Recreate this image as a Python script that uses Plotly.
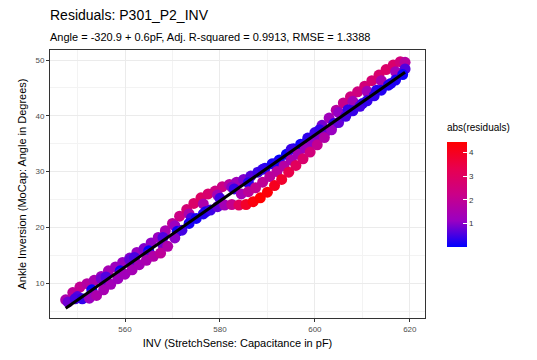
import numpy as np
import plotly.graph_objects as go

# Upper branch of the hysteresis band
upper_x = [547.5, 549.0, 550.5, 552.0, 553.5, 555.0, 556.5, 558.0, 559.5, 561.0,
           562.5, 564.0, 565.5, 567.0, 568.5, 570.0, 571.5, 573.0, 574.5, 576.0,
           577.5, 579.0, 580.5, 582.0, 583.5, 585.0, 586.5, 588.0, 589.5, 591.0,
           592.5, 594.0, 595.5, 597.0, 598.5, 600.0, 601.5, 603.0, 604.5, 606.0,
           607.5, 609.0, 610.5, 612.0, 613.5, 615.0, 616.5, 618.0, 619.0]
upper_y = [7.0, 8.3, 9.3, 9.9, 10.5, 11.2, 12.2, 12.9, 13.7, 14.5,
           15.5, 16.2, 17.2, 18.2, 19.4, 20.7, 22.0, 23.2, 24.3, 25.3,
           26.0, 26.5, 27.3, 27.7, 28.1, 28.6, 29.2, 29.9, 30.6, 31.4,
           32.1, 33.1, 34.1, 34.9, 36.0, 37.0, 38.3, 39.6, 41.0, 42.3,
           43.4, 44.3, 45.3, 46.3, 47.3, 48.3, 49.1, 49.7, 49.6]

# Points between the upper branch and the fit
upper_mid_x = [555.0, 561.0, 570.5, 573.5, 576.5, 579.5, 582.5, 605.0, 608.0, 611.0, 614.0, 617.0]
upper_mid_y = [10.8, 14.2, 20.3, 22.4, 24.2, 25.8, 27.2, 40.6, 42.6, 44.4, 46.3, 47.9]

# Points close to the fitted line
mid_x = [550, 553, 556, 559, 562, 565, 568, 571, 574, 577, 580, 583,
         586, 589, 592, 595, 598, 601, 604, 607, 610, 613, 616, 619]
mid_y = [7.6, 8.8, 11.1, 12.2, 14.6, 15.8, 18.2, 19.3, 21.7, 22.8, 25.2, 26.9,
         28.0, 30.4, 31.6, 34.0, 35.1, 37.5, 38.6, 41.1, 42.2, 44.6, 45.8, 48.4]

# Points between the fit and the lower branch
lower_mid_x = [553.0, 556.0, 559.0, 562.0, 565.0, 568.0, 584.5, 586.0, 587.5, 589.0,
               590.5, 592.0, 593.5, 595.0, 596.5, 598.0, 599.5, 601.0, 602.5]
lower_mid_y = [8.0, 9.9, 11.7, 13.5, 15.2, 16.8, 26.0, 26.4, 27.1, 28.1,
               29.1, 30.0, 31.0, 32.1, 33.1, 34.2, 35.2, 36.2, 37.3]

# Lower branch
lower_x = [548.0, 549.5, 551.0, 552.5, 554.0, 555.5, 557.0, 558.5, 560.0, 561.5,
           563.0, 564.5, 566.0, 567.5, 569.0, 570.5, 572.0, 573.5, 575.0, 576.5,
           578.0, 579.5, 581.0, 582.5, 584.0, 585.5, 587.0, 588.5, 590.0, 591.5,
           593.0, 594.5, 596.0, 597.5, 599.0, 600.5, 602.0, 603.5, 605.0, 606.5,
           608.0, 609.5, 611.0, 612.5, 614.0, 615.5, 617.0, 618.5]
lower_y = [6.6, 7.2, 7.2, 7.3, 7.8, 8.8, 9.8, 10.8, 11.6, 12.4,
           13.3, 14.1, 14.8, 15.4, 16.6, 18.1, 19.5, 20.7, 21.6, 22.4,
           23.1, 23.7, 24.0, 24.1, 24.0, 24.1, 24.6, 25.3, 26.3, 27.5,
           28.6, 29.9, 31.1, 32.3, 33.5, 34.8, 36.1, 37.5, 38.8, 39.9,
           40.9, 41.7, 42.7, 43.6, 44.6, 45.5, 46.4, 47.4]

x_ticks = [560, 580, 600, 620]
y_ticks = [10, 20, 30, 40, 50]
cbar_ticks = [1, 2, 3, 4]

title = "Residuals: P301_P2_INV"
subtitle = "Angle = -320.9 + 0.6pF, Adj. R-squared = 0.9913, RMSE = 1.3388"
x_title = "INV (StretchSense: Capacitance in pF)"
y_title = "Ankle Inversion (MoCap: Angle in Degrees)"
legend_title = "abs(residuals)"

x = np.array(upper_x + upper_mid_x + mid_x + lower_mid_x + lower_x, dtype=float)
y = np.array(upper_y + upper_mid_y + mid_y + lower_mid_y + lower_y, dtype=float)
slope, intercept = np.polyfit(x, y, 1)
resid = np.abs(y - (intercept + slope * x))

colorscale = [[0, "#0000FF"], [0.25, "#9A00C2"], [0.5, "#CA0088"],
              [0.75, "#E8004F"], [1, "#FF0000"]]

fig = go.Figure()
fig.add_trace(go.Scatter(
    x=x, y=y, mode="markers",
    marker=dict(size=11, color=resid, colorscale=colorscale,
                cmin=0, cmax=float(resid.max()), line=dict(width=0),
                showscale=True,
                colorbar=dict(x=1.059, xanchor="left", xpad=0,
                              y=0.461, yanchor="middle", ypad=0,
                              thickness=20, lenmode="pixels", len=105,
                              outlinewidth=0, tickvals=cbar_ticks,
                              ticks="inside", ticklen=4, tickcolor="white",
                              tickfont=dict(family="Liberation Sans", size=8, color="#333333"))),
    showlegend=False, hoverinfo="skip"))

lx = np.array([x.min(), x.max()])
fig.add_trace(go.Scatter(x=lx, y=intercept + slope * lx, mode="lines",
                         line=dict(color="black", width=3),
                         showlegend=False, hoverinfo="skip"))

axis_common = dict(showline=True, mirror=True, linecolor="#333333", linewidth=1,
                   ticks="outside", ticklen=3, tickcolor="#333333",
                   gridcolor="#EBEBEB", gridwidth=1, zeroline=False,
                   tickfont=dict(family="Liberation Sans", size=8, color="#4D4D4D"))

fig.update_layout(
    width=537, height=360,
    margin=dict(l=50, r=112, t=50, b=42),
    paper_bgcolor="white", plot_bgcolor="white",
    font=dict(family="Liberation Sans", color="black"),
    xaxis=dict(range=[544.2, 623.2], tickvals=x_ticks,
               minor=dict(dtick=10, tick0=550, showgrid=True, gridcolor="#F3F3F3", gridwidth=0.5),
               title=dict(text=x_title, font=dict(size=11), standoff=6),
               **axis_common),
    yaxis=dict(range=[3.75, 51.8], tickvals=y_ticks,
               minor=dict(dtick=10, tick0=5, showgrid=True, gridcolor="#F3F3F3", gridwidth=0.5),
               title=dict(text=y_title, font=dict(size=11), standoff=6),
               **axis_common),
    annotations=[
        dict(text=title, xref="paper", yref="paper", x=-0.005, y=(318 - 15) / 268,
             xanchor="left", yanchor="middle", showarrow=False,
             font=dict(size=14, color="black")),
        dict(text=subtitle, xref="paper", yref="paper", x=-0.005, y=(318 - 37) / 268,
             xanchor="left", yanchor="middle", showarrow=False,
             font=dict(size=11, color="black")),
        dict(text=legend_title, xref="paper", yref="paper", x=1.053, y=(318 - 128) / 268,
             xanchor="left", yanchor="middle", showarrow=False,
             font=dict(size=10, color="black")),
    ],
)

fig.write_html("out.html")
